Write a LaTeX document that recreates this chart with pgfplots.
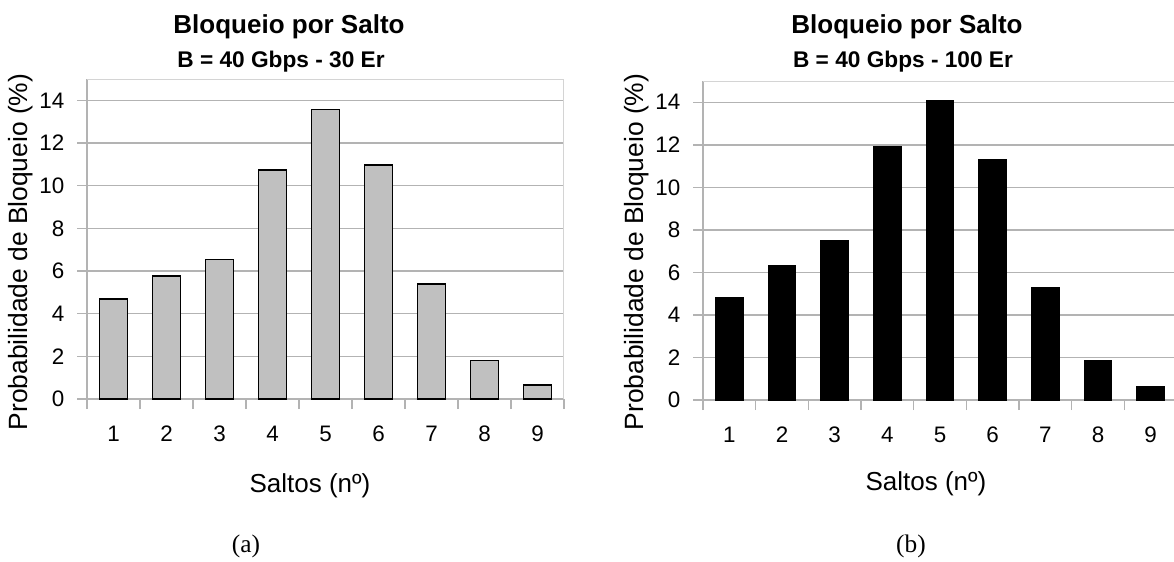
\documentclass[border=0pt]{standalone}
\usepackage{fontspec}
\setmainfont{Liberation Sans}
\newfontfamily\capfont{Liberation Serif}
\usepackage{pgfplots}
\pgfplotsset{compat=1.18}
\usepackage{pgfplotstable}

\definecolor{gridgray}{HTML}{B3B3B3}
\definecolor{framegray}{HTML}{D4D4D4}
\definecolor{bargray}{HTML}{C0C0C0}

% Bloqueio por salto, 30 Er
\pgfplotstableread{
saltos prob
1 4.69
2 5.77
3 6.55
4 10.73
5 13.56
6 10.97
7 5.39
8 1.81
9 0.65
}\tabA

% Bloqueio por salto, 100 Er
\pgfplotstableread{
saltos prob
1 4.79
2 6.31
3 7.51
4 11.90
5 14.08
6 11.31
7 5.26
8 1.86
9 0.63
}\tabB

\pgfplotsset{
  saltos/.style={
    scale only axis,
    xmin=0.5, xmax=9.5, ymin=0, ymax=15,
    axis lines*=left,
    axis line style={draw=gridgray, line width=1.1pt},
    xtick={0.5,1.5,...,9.5},
    xticklabels={1,2,3,4,5,6,7,8,9},
    x tick label as interval,
    ytick={0,2,...,14},
    ymajorgrids,
    grid style={draw=gridgray, line width=1.1pt},
    tick style={draw=gridgray, line width=1.1pt},
    tick align=outside,
    major tick length=7.5pt,
    tick label style={font=\fontsize{16.8}{18}\selectfont},
    /pgf/number format/assume math mode=true,
    yticklabel style={xshift=-6pt},
    xticklabel style={yshift=-9pt},
    ybar, bar width=0.52,
  }
}

\begin{document}
\begin{tikzpicture}
\useasboundingbox (0,0) rectangle (880.5pt,-420.75pt);

% (a)
\begin{axis}[saltos, at={(65.25pt,-299.25pt)}, anchor=south west,
  width=357.75pt, height=240pt]
  \addplot[fill=bargray, draw=black, line width=1.1pt] table[x=saltos, y=prob] {\tabA};
  \draw[framegray, line width=1.1pt] (rel axis cs:0,1) -- (rel axis cs:1,1) -- (rel axis cs:1,0);
\end{axis}

% (b)
\begin{axis}[saltos, at={(527.25pt,-300pt)}, anchor=south west,
  width=355.5pt, height=239.25pt]
  \addplot[fill=black, draw=black, line width=1pt] table[x=saltos, y=prob] {\tabB};
  \draw[framegray, line width=1.1pt] (rel axis cs:0,1) -- (rel axis cs:1,1) -- (rel axis cs:1,0);
\end{axis}

\node[anchor=base, font=\bfseries\fontsize{19.5}{22}\selectfont] at (216.75pt,-24.75pt) {Bloqueio por Salto};
\node[anchor=base, font=\bfseries\fontsize{17}{20}\selectfont] at (210.75pt,-50.25pt) {B = 40 Gbps - 30 Er};
\node[anchor=base, font=\bfseries\fontsize{19.5}{22}\selectfont] at (680.25pt,-24.75pt) {Bloqueio por Salto};
\node[anchor=base, font=\bfseries\fontsize{17}{20}\selectfont] at (677.25pt,-50.25pt) {B = 40 Gbps - 100 Er};

\node[rotate=90, font=\fontsize{19.8}{22}\selectfont] at (15.75pt,-189pt) {Probabilidade de Bloqueio (\%)};
\node[rotate=90, font=\fontsize{19.8}{22}\selectfont] at (477.75pt,-189pt) {Probabilidade de Bloqueio (\%)};

\node[anchor=base, font=\fontsize{19.5}{22}\selectfont] at (232.5pt,-369pt) {Saltos (nº)};
\node[anchor=base, font=\fontsize{19.5}{22}\selectfont] at (694.5pt,-367.5pt) {Saltos (nº)};

\node[anchor=base, font=\capfont\fontsize{19}{22}\selectfont] at (184.5pt,-414pt) {(a)};
\node[anchor=base, font=\capfont\fontsize{19}{22}\selectfont] at (683.25pt,-414pt) {(b)};
\end{tikzpicture}
\end{document}
